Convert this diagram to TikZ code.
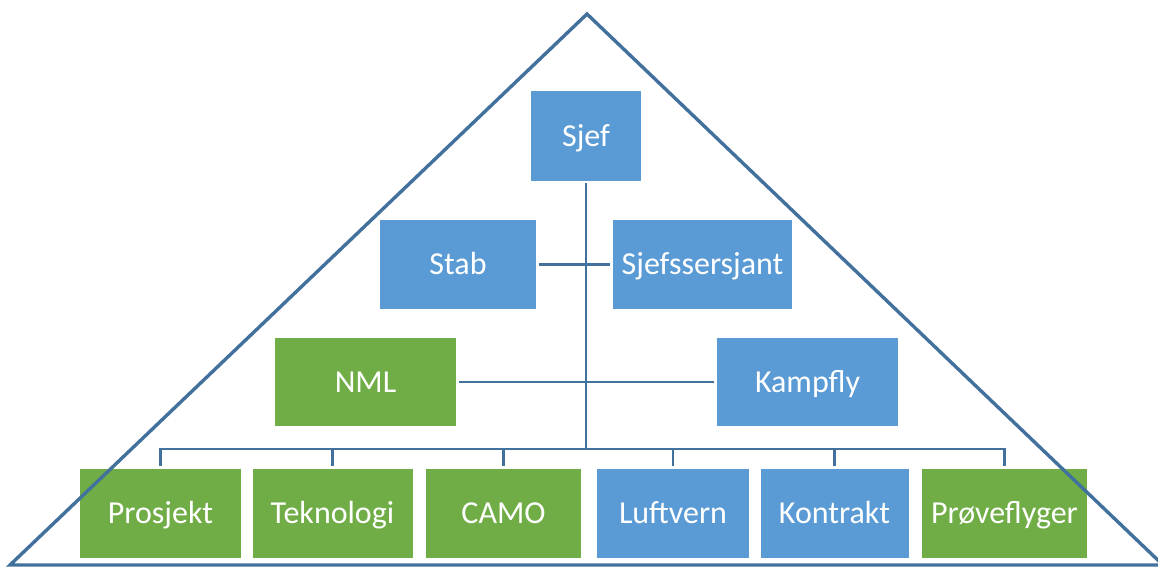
\documentclass[tikz,border=0pt]{standalone}
\usepackage{fontspec}
\setmainfont{Carlito}
\definecolor{boxblue}{HTML}{5B9BD5}
\definecolor{boxgreen}{HTML}{70AD47}
\definecolor{linecol}{HTML}{41719C}
\begin{document}
\begin{tikzpicture}[x=1pt,y=-1pt,
  box/.style={draw=none,minimum height=89pt,inner sep=0pt,text height=20.5pt,text depth=0pt,text=white,font=\fontsize{32}{38}\selectfont},
  bluebox/.style={box,fill=boxblue},
  greenbox/.style={box,fill=boxgreen},
  conn/.style={draw=linecol,line width=2.8pt},
  tri/.style={draw=linecol,line width=3.4pt,line join=miter}]
\useasboundingbox (0,0) rectangle (1158,566);
\node[bluebox,minimum width=110pt,minimum height=90pt] (sjef) at (586,136) {Sjef};
\node[bluebox,minimum width=156pt] (stab) at (458,264.5) {Stab};
\node[bluebox,minimum width=179pt] (sersjant) at (702.5,264.5) {Sjefssersjant};
\node[greenbox,minimum width=181pt,minimum height=88pt] (nml) at (365.5,382) {NML};
\node[bluebox,minimum width=181pt,minimum height=88pt] (kampfly) at (807.5,382) {Kampfly};
\node[greenbox,minimum width=161pt] (prosjekt) at (160.5,513.5) {Prosjekt};
\node[greenbox,minimum width=160pt] (teknologi) at (332.5,513.5) {Teknologi};
\node[greenbox,minimum width=155pt] (camo) at (503.5,513.5) {CAMO};
\node[bluebox,minimum width=152pt] (luftvern) at (673,513.5) {Luftvern};
\node[bluebox,minimum width=148pt] (kontrakt) at (834.5,513.5) {Kontrakt};
\node[greenbox,minimum width=165pt] (prove) at (1004.5,513.5) {Prøveflyger};
\coordinate (bus) at (586,449);
% connectors
\draw[conn,shorten <=2pt] (sjef.south) -- (sjef.south |- bus);
\draw[conn,shorten <=3pt,shorten >=3pt] (stab.east) -- (sersjant.west);
\draw[conn,shorten <=3pt,shorten >=3pt] (nml.east) -- (kampfly.west);
\draw[conn,line cap=rect] (prosjekt.north |- bus) -- (prove.north |- bus);
\foreach \n in {prosjekt,teknologi,camo,luftvern,kontrakt,prove}{
  \draw[conn,shorten <=3pt] (\n.north) -- (\n.north |- bus);
}
% pyramid outline
\coordinate (apex) at (587,14);
\coordinate (bl) at (10,565);
\coordinate (br) at (1163,565);
\draw[tri] (bl) -- (apex) -- (br) -- cycle;
\end{tikzpicture}
\end{document}
